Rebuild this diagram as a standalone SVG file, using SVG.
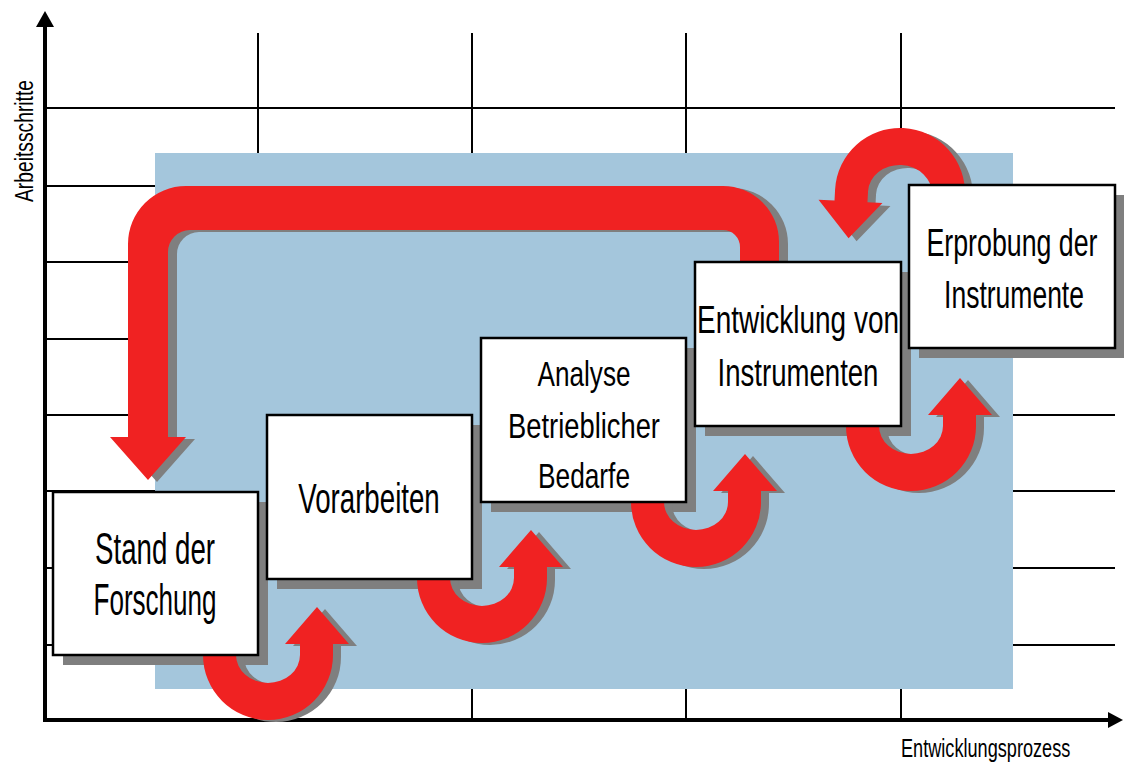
<svg xmlns="http://www.w3.org/2000/svg" xmlns:xlink="http://www.w3.org/1999/xlink" width="1124" height="765" viewBox="0 0 1124 765">
<style>
.grid{stroke:#000;stroke-width:2;fill:none}
.axis{stroke:#000;stroke-width:4;fill:none}
.box{fill:#fff;stroke:#000;stroke-width:2.5}
.bshadow{fill:#7f7f7f}
.red{fill:#f02222}
.shd{fill:#7f7f7f}
.t{font-family:"Liberation Sans",Arial,sans-serif;fill:#000;text-anchor:middle}
.ax{font-family:"Liberation Sans",Arial,sans-serif;fill:#000}
</style>
<defs>
<path id="uarrow" d="M -65 -15 L -65 0 A 65 65 0 0 0 65 0 L 65 -11 L 81 -11 L 49 -48 L 17 -11 L 32 -11 L 32 0 A 32 28 0 0 1 -32 0 L -32 -15 Z"/>
<path id="bigarrow" d="M 740 280 L 740 247 A 17 17 0 0 0 723 230 L 190 230 A 22 22 0 0 0 168 252 L 168 437 L 186 437 L 148 480 L 110 437 L 128 437 L 128 244 A 58 58 0 0 1 186 186 L 723 186 A 56 56 0 0 1 779 242 L 779 280 Z"/>
</defs>
<rect x="0" y="0" width="1124" height="765" fill="#fff"/>
<g id="grid">
<line class="grid" x1="44" y1="108" x2="1115" y2="108"/>
<line class="grid" x1="44" y1="186" x2="1115" y2="186"/>
<line class="grid" x1="44" y1="262" x2="1115" y2="262"/>
<line class="grid" x1="44" y1="339" x2="1115" y2="339"/>
<line class="grid" x1="44" y1="415" x2="1115" y2="415"/>
<line class="grid" x1="44" y1="491" x2="1115" y2="491"/>
<line class="grid" x1="44" y1="568" x2="1115" y2="568"/>
<line class="grid" x1="44" y1="645" x2="1115" y2="645"/>
<line class="grid" x1="258" y1="33" x2="258" y2="720"/>
<line class="grid" x1="472" y1="33" x2="472" y2="720"/>
<line class="grid" x1="686" y1="33" x2="686" y2="720"/>
<line class="grid" x1="901" y1="33" x2="901" y2="720"/>
</g>
<rect id="background-panel" x="155" y="153" width="858" height="536" fill="#a4c6dc"/>
<g id="axes">
<line class="axis" x1="45" y1="722" x2="45" y2="24"/>
<polygon points="36,27 45,11 54,27" fill="#000"/>
<line class="axis" x1="43" y1="720" x2="1110" y2="720"/>
<polygon points="1108,712 1123,720 1108,728" fill="#000"/>
<text class="ax" font-size="26" transform="translate(33,202) rotate(-90) scale(0.741,1)">Arbeitsschritte</text>
<text class="ax" font-size="26" transform="translate(901,757) scale(0.698,1)">Entwicklungsprozess</text>
</g>
<g id="box-shadows">
<rect class="bshadow" x="63" y="502" width="205" height="163"/>
<rect class="bshadow" x="277" y="425" width="205" height="164"/>
<rect class="bshadow" x="491" y="348" width="205" height="164"/>
<rect class="bshadow" x="705" y="272" width="206" height="164"/>
<rect class="bshadow" x="919" y="195" width="206" height="163"/>
</g>
<g id="connectors">
<use href="#bigarrow" xlink:href="#bigarrow" class="shd" transform="translate(9,2)"/>
<use href="#bigarrow" xlink:href="#bigarrow" class="red"/>
<use href="#uarrow" xlink:href="#uarrow" class="shd" transform="translate(276,657)"/>
<use href="#uarrow" xlink:href="#uarrow" class="red" transform="translate(268,655)"/>
<use href="#uarrow" xlink:href="#uarrow" class="shd" transform="translate(490,580)"/>
<use href="#uarrow" xlink:href="#uarrow" class="red" transform="translate(482,578)"/>
<use href="#uarrow" xlink:href="#uarrow" class="shd" transform="translate(704,504)"/>
<use href="#uarrow" xlink:href="#uarrow" class="red" transform="translate(696,502)"/>
<use href="#uarrow" xlink:href="#uarrow" class="shd" transform="translate(919,428)"/>
<use href="#uarrow" xlink:href="#uarrow" class="red" transform="translate(911,426)"/>
<use href="#uarrow" xlink:href="#uarrow" class="shd" transform="translate(908,196) rotate(183)"/>
<use href="#uarrow" xlink:href="#uarrow" class="red" transform="translate(900,193) rotate(183)"/>
</g>
<g id="node-stand">
<rect class="box" x="53" y="492" width="205" height="163"/>
<text class="t" font-size="44" transform="translate(155,564) scale(0.629,1)">Stand der</text>
<text class="t" font-size="44" transform="translate(155,615) scale(0.592,1)">Forschung</text>
</g>
<g id="node-vorarbeiten">
<rect class="box" x="267" y="415" width="205" height="164"/>
<text class="t" font-size="42" transform="translate(369,513) scale(0.659,1)">Vorarbeiten</text>
</g>
<g id="node-analyse">
<rect class="box" x="481" y="338" width="205" height="164"/>
<text class="t" font-size="35" transform="translate(584,386) scale(0.747,1)">Analyse</text>
<text class="t" font-size="35" transform="translate(584,438) scale(0.781,1)">Betrieblicher</text>
<text class="t" font-size="35" transform="translate(584,488) scale(0.751,1)">Bedarfe</text>
</g>
<g id="node-entwicklung">
<rect class="box" x="695" y="262" width="206" height="164"/>
<text class="t" font-size="39" transform="translate(798,333) scale(0.717,1)">Entwicklung von</text>
<text class="t" font-size="39" transform="translate(798,386) scale(0.707,1)">Instrumenten</text>
</g>
<g id="node-erprobung">
<rect class="box" x="909" y="185" width="206" height="163"/>
<text class="t" font-size="39" transform="translate(1012,256) scale(0.686,1)">Erprobung der</text>
<text class="t" font-size="39" transform="translate(1014,308) scale(0.680,1)">Instrumente</text>
</g>
</svg>
